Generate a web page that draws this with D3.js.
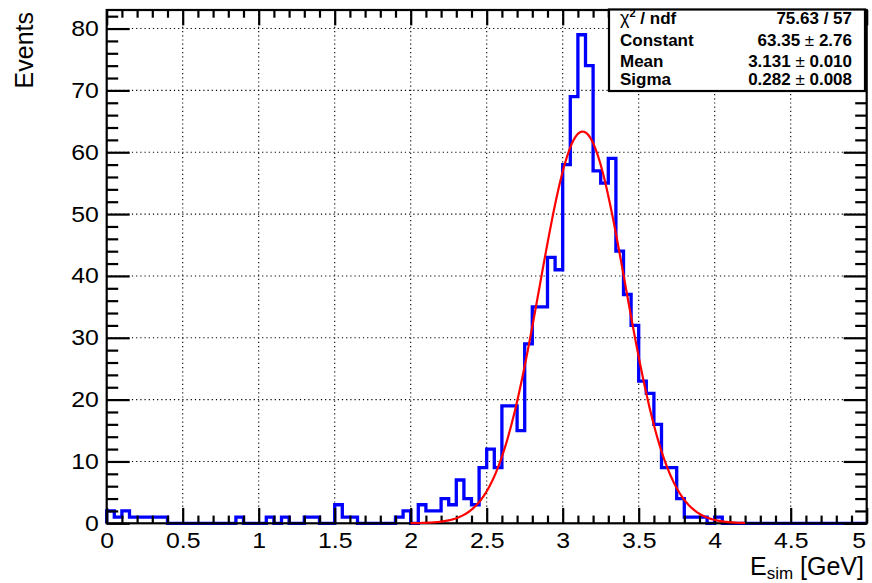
<!DOCTYPE html>
<html>
<head>
<meta charset="utf-8">
<script src="https://cdn.jsdelivr.net/npm/d3@7"></script>
<style>
  html, body { margin: 0; padding: 0; background: #fff; }
  svg { display: block; font-family: "Liberation Sans", Arial, Helvetica, sans-serif; }
</style>
</head>
<body>
<svg id="chart" width="872" height="583"></svg>
<script>
// Simulated energy spectrum: 100 bins of 0.05 GeV covering 0–5 GeV
const binRange = [0, 5];
const binWidth = 0.05;
const counts = [
  2, 1, 2, 1, 1, 1, 1, 1, 0, 0,
  0, 0, 0, 0, 0, 0, 0, 1, 0, 0,
  0, 1, 0, 1, 0, 0, 1, 1, 0, 0,
  3, 1, 1, 0, 0, 0, 0, 0, 1, 2,
  0, 3, 2, 2, 4, 3, 7, 4, 3, 9,
  12, 9, 19, 19, 15, 29, 35, 35, 43, 41,
  58, 69, 79, 74, 57, 55, 59, 44, 37, 32,
  23, 21, 16, 9, 9, 4, 1, 1, 1, 0,
  1, 0, 0, 0, 0, 0, 0, 0, 0, 0,
  0, 0, 0, 0, 0, 0, 0, 0, 0, 0
];

// Axis ticks and range
const xTicks = [0, 0.5, 1, 1.5, 2, 2.5, 3, 3.5, 4, 4.5, 5];
const yTicks = [0, 10, 20, 30, 40, 50, 60, 70, 80];
const yRange = [0, 83];

// Gaussian fit result
const fitConstant = 63.35;
const fitMean = 3.131;
const fitSigma = 0.282;
const fitRange = [2.0, 4.2];

// Fit statistics box
const statNames = ["χ", "Constant", "Mean", "Sigma"];
const statValues = ["75.63 / 57", "63.35 ± 2.76", "3.131 ± 0.010", "0.282 ± 0.008"];

const svg = d3.select("#chart");
const frame = { left: 106.7, right: 866.7, top: 10, bottom: 523.3 };

const x = d3.scaleLinear().domain(binRange).range([frame.left, frame.right]);
const y = d3.scaleLinear().domain(yRange).range([frame.bottom, frame.top]);

// Dotted grid at the major ticks
const grid = svg.append("g")
  .attr("stroke", "#000")
  .attr("stroke-width", 1.1)
  .attr("stroke-dasharray", "1.2,3");
grid.selectAll("line.gx").data(xTicks.slice(1, -1)).join("line")
  .attr("class", "gx")
  .attr("x1", d => x(d)).attr("x2", d => x(d))
  .attr("y1", frame.top).attr("y2", frame.bottom);
grid.selectAll("line.gy").data(yTicks.slice(1)).join("line")
  .attr("class", "gy")
  .attr("x1", frame.left).attr("x2", frame.right)
  .attr("y1", d => y(d)).attr("y2", d => y(d));

// Histogram outline
const histPts = [[binRange[0], 0]]
  .concat(counts.map((c, i) => [binRange[0] + i * binWidth, c]))
  .concat([[binRange[1], counts[counts.length - 1]], [binRange[1], 0]]);
const histLine = d3.line()
  .x(d => x(d[0]))
  .y(d => y(d[1]))
  .curve(d3.curveStepAfter);
svg.append("path")
  .attr("d", histLine(histPts))
  .attr("fill", "none")
  .attr("stroke", "#0000ff")
  .attr("stroke-width", 3.3)
  .attr("stroke-linejoin", "miter");

// Axes: ticks point into the frame on all four sides
const xMinor = x.ticks(50).filter(v => !xTicks.some(t => Math.abs(t - v) < 1e-9));
const yMinor = y.ticks(40).filter(v => !yTicks.some(t => Math.abs(t - v) < 1e-9));
const tickStyle = g => {
  g.select(".domain").remove();
  g.selectAll("line").attr("stroke", "#000").attr("stroke-width", 2.2);
  g.attr("font-family", null).attr("font-size", null);
};

function addAxis(axisFn, scale, pos, values, size, withLabels) {
  const g = svg.append("g").attr("transform", pos);
  const ax = axisFn(scale).tickValues(values).tickSize(size);
  if (withLabels) ax.tickPadding(withLabels).tickFormat(d3.format("~g"));
  else ax.tickFormat("");
  g.call(ax).call(tickStyle);
  return g;
}

// bottom
addAxis(d3.axisBottom, x, `translate(0,${frame.bottom})`, xMinor, -7.7, 0);
const gxb = addAxis(d3.axisBottom, x, `translate(0,${frame.bottom})`, xTicks, -15.4, 9);
// top
addAxis(d3.axisTop, x, `translate(0,${frame.top})`, xMinor, -7.7, 0);
addAxis(d3.axisTop, x, `translate(0,${frame.top})`, xTicks, -15.4, 0);
// left
addAxis(d3.axisLeft, y, `translate(${frame.left},0)`, yMinor, -11.5, 0);
const gyl = addAxis(d3.axisLeft, y, `translate(${frame.left},0)`, yTicks, -23, 7);
// right
addAxis(d3.axisRight, y, `translate(${frame.right},0)`, yMinor, -11.5, 0);
addAxis(d3.axisRight, y, `translate(${frame.right},0)`, yTicks, -23, 0);

[gxb, gyl].forEach(g => g.selectAll("text")
  .attr("fill", "#000")
  .attr("font-size", 22)
  .attr("transform", "scale(1.13,1)"));
// keep the last x label inside the canvas
gxb.selectAll("text").filter(d => d === xTicks[xTicks.length - 1])
  .attr("text-anchor", "end")
  .attr("x", -1);

// Frame
svg.append("rect")
  .attr("x", frame.left).attr("y", frame.top)
  .attr("width", frame.right - frame.left)
  .attr("height", frame.bottom - frame.top)
  .attr("fill", "none")
  .attr("stroke", "#000")
  .attr("stroke-width", 2.2);

// Gaussian fit curve
const gauss = v => fitConstant * Math.exp(-0.5 * Math.pow((v - fitMean) / fitSigma, 2));
const fitPts = d3.range(0, 221).map(k => {
  const v = fitRange[0] + (fitRange[1] - fitRange[0]) * k / 220;
  return [v, gauss(v)];
});
svg.append("path")
  .attr("d", d3.line().x(d => x(d[0])).y(d => y(d[1]))(fitPts))
  .attr("fill", "none")
  .attr("stroke", "#ff0000")
  .attr("stroke-width", 2.2);

// Axis titles
svg.append("text")
  .attr("transform", `translate(33,12) rotate(-90)`)
  .attr("text-anchor", "end")
  .attr("font-size", 25)
  .attr("fill", "#000")
  .text("Events");

const xt = svg.append("text")
  .attr("x", 864).attr("y", 575)
  .attr("text-anchor", "end")
  .attr("font-size", 25)
  .attr("fill", "#000");
xt.append("tspan").text("E");
xt.append("tspan").attr("font-size", 17).attr("dy", 4).text("sim");
xt.append("tspan").attr("dy", -4).text(" [GeV]");

// Statistics box
const box = { x: 609, y: 9.5, w: 256, h: 81.5 };
svg.append("rect")
  .attr("x", box.x).attr("y", box.y)
  .attr("width", box.w).attr("height", box.h)
  .attr("fill", "#fff")
  .attr("stroke", "#000")
  .attr("stroke-width", 2.2);

const rowBase = [24, 46, 66.5, 85];
const stats = svg.append("g")
  .attr("font-size", 17)
  .attr("font-weight", "bold")
  .attr("fill", "#000");

statNames.forEach((name, i) => {
  const t = stats.append("text").attr("x", 620).attr("y", rowBase[i]);
  if (i === 0) {
    t.append("tspan").attr("font-weight", "normal").attr("font-size", 18).text(name);
    t.append("tspan").attr("font-size", 11).attr("dy", -7).text("2");
    t.append("tspan").attr("dy", 7).text(" / ndf");
  } else {
    t.text(name);
  }
});

statValues.forEach((val, i) => {
  const t = stats.append("text")
    .attr("x", 852).attr("y", rowBase[i])
    .attr("text-anchor", "end");
  const parts = val.split("±");
  if (parts.length === 2) {
    t.append("tspan").text(parts[0].trim() + " ");
    t.append("tspan").attr("font-weight", "normal").text("±");
    t.append("tspan").text(" " + parts[1].trim());
  } else {
    t.text(val);
  }
});
</script>
</body>
</html>
